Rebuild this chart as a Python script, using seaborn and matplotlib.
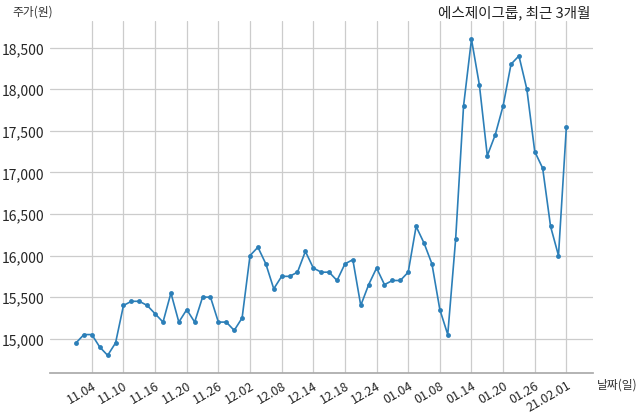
import numpy as np
import pandas as pd
import seaborn as sns
import matplotlib.pyplot as plt

sns.set_theme(style="white")
plt.rcParams['font.family'] = ['Noto Sans CJK KR', 'DejaVu Sans']

# trading days, Nov 2020 - Feb 2021
dates = ["11.02", "11.03", "11.04", "11.05", "11.06", "11.09", "11.10", "11.11", "11.12", "11.13",
         "11.16", "11.17", "11.18", "11.19", "11.20", "11.23", "11.24", "11.25", "11.26", "11.27",
         "11.30", "12.01", "12.02", "12.03", "12.04", "12.07", "12.08", "12.09", "12.10", "12.11",
         "12.14", "12.15", "12.16", "12.17", "12.18", "12.21", "12.22", "12.23", "12.24", "12.28",
         "12.29", "12.30", "01.04", "01.05", "01.06", "01.07", "01.08", "01.11", "01.12", "01.13",
         "01.14", "01.15", "01.18", "01.19", "01.20", "01.21", "01.22", "01.25", "01.26", "01.27",
         "01.28", "01.29", "21.02.01"]
prices = [14950, 15050, 15050, 14900, 14800, 14950, 15400, 15450, 15450, 15400,
          15300, 15200, 15550, 15200, 15350, 15200, 15500, 15500, 15200, 15200,
          15100, 15250, 16000, 16100, 15900, 15600, 15750, 15750, 15800, 16050,
          15850, 15800, 15800, 15700, 15900, 15950, 15400, 15650, 15850, 15650,
          15700, 15700, 15800, 16350, 16150, 15900, 15350, 15050, 16200, 17800,
          18600, 18050, 17200, 17450, 17800, 18300, 18400, 18000, 17250, 17050,
          16350, 16000, 17550]
yticks = [15000, 15500, 16000, 16500, 17000, 17500, 18000, 18500]

df = pd.DataFrame({"idx": np.arange(len(dates)), "date": dates, "price": prices})

fig, ax = plt.subplots(figsize=(6.4, 4.14), dpi=100)
fig.subplots_adjust(left=0.078, right=0.927, bottom=0.097, top=0.947)

sns.lineplot(data=df, x="idx", y="price", ax=ax, color="#2c7fb8",
             marker="o", markersize=3.5, markeredgewidth=0, linewidth=1.2)

tick_idx = list(range(2, len(dates), 4))
ax.set_xticks(tick_idx)
ax.set_xticklabels([dates[i] for i in tick_idx], rotation=30, ha="right",
                   rotation_mode="anchor", fontsize=9)
ax.set_xlim(-3.3, len(dates) + 2.4)

ax.set_yticks(yticks)
ax.set_yticklabels([f"{v:,}" for v in yticks], fontsize=10)
ax.set_ylim(14590, 18820)

ax.grid(True, color="#cccccc", linewidth=0.9)
ax.tick_params(length=0, pad=4)
for s in ["top", "right", "left"]:
    ax.spines[s].set_visible(False)
ax.spines["bottom"].set_color("#aaaaaa")

ax.set_xlabel("")
ax.set_ylabel("")
ax.text(-0.031, 1.01, "주가(원)", transform=ax.transAxes, ha="center", va="bottom",
        fontsize=8.5, color="#333333")
ax.text(1.007, -0.012, "날짜(일)", transform=ax.transAxes, ha="left", va="top",
        fontsize=8.5, color="#333333")
ax.text(0.995, 1.006, "에스제이그룹, 최근 3개월", transform=ax.transAxes, ha="right",
        va="bottom", fontsize=10.5, color="#222222")

fig.savefig("out.png", dpi=100)
